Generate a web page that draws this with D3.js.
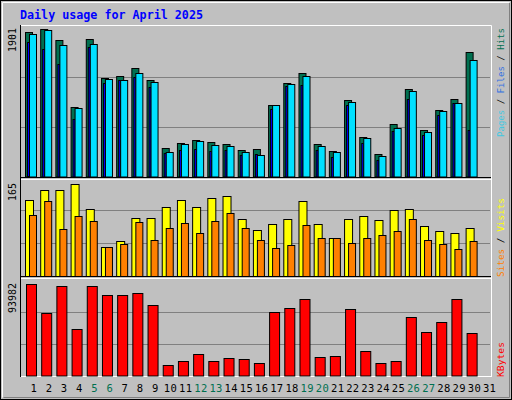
<!DOCTYPE html><html><head><meta charset="utf-8"><script src="https://cdn.jsdelivr.net/npm/d3@7"></script>
<style>body{margin:0;background:#fff}</style></head><body><svg id="c" width="512" height="400"></svg>
<script>
const days=d3.range(1,32).map(String);
const weekend=["5","6","12","13","19","20","26","27"];
const hits=[1858,1901,1755,901,1768,1266,1291,1394,1240,365,429,468,442,416,339,352,918,1201,1330,416,326,982,506,287,673,1124,596,854,995,1600];
const files=[1832,1883,1690,879,1703,1253,1240,1330,1214,313,416,455,403,390,313,275,918,1188,1291,390,313,957,493,262,622,1098,571,841,944,1497];
const pages=[1729,1639,1446,738,1665,1201,1240,1278,1150,300,339,352,326,339,275,287,867,1163,1175,339,249,918,429,210,583,995,532,789,944,596];
const visits=[136,154,154,165,120,52,62,104,104,124,136,124,140,143,102,82,93,102,134,93,68,102,107,100,118,120,89,80,77,86];
const sites=[109,134,84,107,98,52,57,97,64,86,95,77,98,113,86,64,50,55,91,68,68,59,68,73,80,102,64,57,48,62];
const kbytes=[93982,64140,91924,47677,91924,82663,82663,84721,72372,10633,14749,21951,14749,17836,16807,12691,65169,69285,78546,18865,19894,68256,25038,12691,14749,60024,44590,54879,78546,43561];

const svg=d3.select("#c");
svg.append("rect").attr("x",0.5).attr("y",0.5).attr("width",511).attr("height",399).attr("fill","#c0c0c0").attr("stroke","#000");
svg.append("path").attr("d","M2.5,397.5V2.5H509.5").attr("fill","none").attr("stroke","#fff");
svg.append("path").attr("d","M3.5,397.5H509.5V3").attr("fill","none").attr("stroke","#808080");
svg.append("text").attr("x",20).attr("y",19).text("Daily usage for April 2025")
 .attr("font-family","DejaVu Sans Mono").attr("font-weight","bold").attr("font-size",11.7).attr("fill","#0000ff");

const x=d3.scaleBand().domain(days).range([20,491]).paddingInner(0);
const panels=[{t:25,b:177},{t:180,b:276},{t:279,b:376}];
panels.forEach(p=>{
  svg.append("rect").attr("x",20).attr("y",p.t).attr("width",471).attr("height",p.b-p.t).attr("fill","#c0c0c0");
});
svg.append("path").attr("d","M20.5,377V25.5H491.5V377").attr("fill","none").attr("stroke","#fff");
svg.append("path").attr("d","M20,179.5H491M20,278.5H491M20,376.5H491").attr("stroke","#fff");
svg.append("path").attr("d","M20.5,25V377").attr("stroke","#000");
svg.append("path").attr("d","M21,177.5H491M21,276.5H491").attr("stroke","#000");

function grid(y,vmax){[vmax/3,2*vmax/3].forEach(v=>svg.append("line").attr("x1",21).attr("x2",490).attr("y1",Math.round(y(v))+0.5).attr("y2",Math.round(y(v))+0.5).attr("stroke","#808080"));}
function bars(data,y,dx,w,fill){
  svg.append("g").selectAll("rect").data(data).join("rect")
   .attr("x",(d,i)=>x(days[i])+dx+0.5).attr("width",w)
   .attr("y",d=>Math.round(y(d))+0.5).attr("height",d=>y.range()[0]-Math.round(y(d)))
   .attr("fill",fill).attr("stroke","#000");
}
const y1=d3.scaleLinear().domain([0,1940]).range([176.5,26]);
grid(y1,1940*0.995);
bars(hits,y1,5,7,"#007050");
bars(pages,y1,7,2,"#0000ff");
bars(files,y1,9,7,"#00e0ff");
const y2=d3.scaleLinear().domain([0,165]).range([276,184]);
grid(y2,180*0.98);
bars(visits,y2,5,8,"#ffff00");
bars(sites,y2,9,7,"#ff8000");
const y3=d3.scaleLinear().domain([0,93982]).range([375.5,284.3]);
grid(y3,93982*1.04);
bars(kbytes,y3,6,10,"#ff0000");

svg.append("g").selectAll("text").data(days).join("text")
 .attr("x",d=>x(d)+x.bandwidth()/2+6).attr("y",392).attr("text-anchor","middle")
 .attr("font-family","DejaVu Sans Mono").attr("font-size",10.5).attr("textLength",d=>d.length>1?13:null)
 .attr("fill",d=>weekend.includes(d)?"#007050":"#000").text(d=>d);

function vlab(xp,yp,txt,anchor){svg.append("text").attr("transform",`translate(${xp},${yp}) rotate(-90)`).attr("text-anchor",anchor)
 .attr("font-family","DejaVu Sans Mono").attr("font-size",10).attr("fill","#000").text(txt);}
vlab(16,28,"1901","end");vlab(16,183,"165","end");vlab(16,283,"93982","end");

function rlab(yp,len,parts){const t=svg.append("text").attr("transform",`translate(504,${yp}) rotate(-90)`).attr("text-anchor","start")
 .attr("font-family","DejaVu Sans Mono").attr("font-size",9.5).attr("textLength",len).attr("lengthAdjust","spacingAndGlyphs");
 parts.forEach(p=>t.append("tspan").attr("fill",p[1]).text(p[0]));}
rlab(137,109,[["Pages","#40c8e0"],[" / ","#000"],["Files","#3070e0"],[" / ","#000"],["Hits","#007050"]]);
rlab(277,79,[["Sites","#ff8000"],[" / ","#000"],["Visits","#ffff00"]]);
rlab(377,35,[["KBytes","#ff0000"]]);
</script></body></html>
